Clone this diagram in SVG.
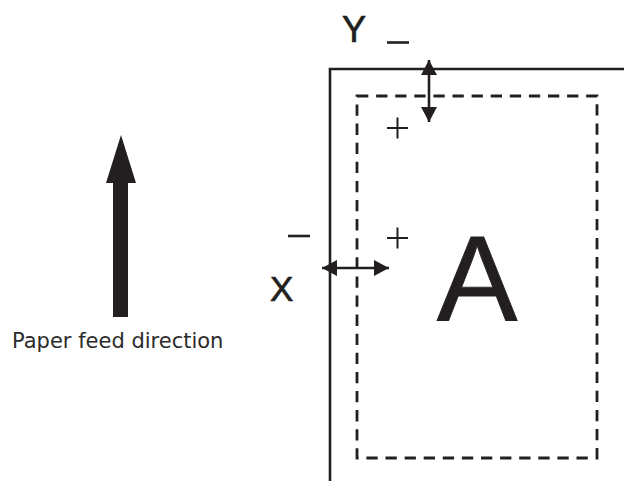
<svg xmlns="http://www.w3.org/2000/svg" width="624" height="481" viewBox="0 0 624 481">
<style>
.ln{stroke:#231f20;stroke-width:2.6;fill:none}
.dash{stroke:#231f20;stroke-width:2.8;fill:none;stroke-dasharray:11.3 7.8}
.thin{stroke:#231f20;stroke-width:2;fill:none}
.sans{font-family:"Liberation Sans",Arial,sans-serif;fill:#231f20;stroke:#231f20}
.lbl{font-family:"DejaVu Sans",Verdana,sans-serif;fill:#2b2b2b;font-size:21px}
</style>
<defs>
<marker id="ah" viewBox="0 0 15 16" refX="15" refY="8" markerWidth="15" markerHeight="16" markerUnits="userSpaceOnUse" orient="auto-start-reverse">
<path d="M0,0 L15,8 L0,16 Z" fill="#231f20"/>
</marker>
</defs>
<rect width="624" height="481" fill="#ffffff"/>
<g id="page">
<path class="ln" d="M330,481 V69 H624"/>
</g>
<g id="printable-area">
<rect class="dash" x="357" y="96" width="240" height="362"/>
</g>
<g id="letter-A">
<text class="sans" x="477" y="320" font-size="121" stroke-width="0.8" text-anchor="middle">A</text>
</g>
<g id="Y-label">
<text class="sans" x="342" y="42" font-size="36" stroke-width="0.7">Y</text>
<line class="ln" x1="387" y1="42.5" x2="409" y2="42.5"/>
</g>
<g id="X-label">
<text class="sans" x="270" y="301" font-size="35" stroke-width="0.7">X</text>
<line class="ln" x1="288" y1="236" x2="310" y2="236"/>
</g>
<g id="plus-signs">
<path class="thin" d="M387,128 H408 M397.5,117.5 V138.5"/>
<path class="thin" d="M387,238 H408 M397.5,227.5 V248.5"/>
</g>
<g id="paper-feed">
<path d="M121,135 L136,183 L128,183 L128,317 L113,317 L113,183 L106,183 Z" fill="#231f20"/>
<text class="lbl" x="12" y="348">Paper feed direction</text>
</g>
<g id="connectors">
<line class="ln" x1="429" y1="60" x2="429" y2="122" marker-start="url(#ah)" marker-end="url(#ah)"/>
<line class="ln" x1="322" y1="268" x2="389" y2="268" marker-start="url(#ah)" marker-end="url(#ah)"/>
</g>
</svg>
